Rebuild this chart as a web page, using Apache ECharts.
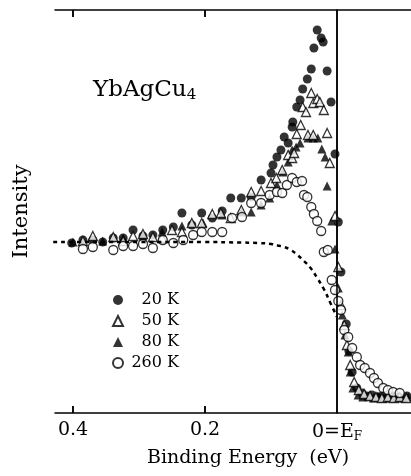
<!DOCTYPE html>
<html>
<head>
<meta charset="utf-8">
<script src="https://cdn.jsdelivr.net/npm/echarts@6/dist/echarts.min.js"></script>
<style>html,body{margin:0;padding:0;background:#fff}#c{width:411px;height:476px}</style>
</head>
<body>
<div id="c"></div>
<script>
// Binding energy (eV) and intensity (arb. units)
const k20E = [0.402,0.385,0.370,0.355,0.339,0.324,0.309,0.294,0.279,0.264,0.248,0.235,0.220,0.205,0.189,0.174,0.161,0.145,0.130,0.115,0.100,0.097,0.091,0.085,0.080,0.074,0.068,0.067,0.061,0.056,0.052,0.045,0.039,0.035,0.030,0.024,0.021,0.015,0.009,0.003,-0.002,-0.006,-0.014,-0.018,-0.023,-0.030,-0.038,-0.045,-0.053,-0.061,-0.068,-0.076,-0.083,-0.091,-0.098,-0.106];
const k20I = [170,173,173,171,175,175,183,177,178,183,186,200,188,200,195,202,215,215,216,233,240,248,256,263,276,270,286,291,306,313,324,334,344,365,383,375,371,342,311,259,191,141,89,62,41,25,20,17,18,16,17,15,17,16,15,17];

const k50E = [0.385,0.370,0.339,0.324,0.309,0.294,0.279,0.265,0.250,0.235,0.220,0.205,0.189,0.176,0.161,0.145,0.130,0.115,0.100,0.092,0.083,0.074,0.068,0.065,0.061,0.055,0.052,0.047,0.044,0.039,0.036,0.036,0.030,0.026,0.020,0.015,0.011,0.003,-0.002,-0.006,-0.011,-0.015,-0.020,-0.026,-0.033,-0.041,-0.050,-0.059,-0.068,-0.077,-0.086,-0.095,-0.105];
const k50I = [172,177,176,172,177,179,176,175,183,181,190,190,199,200,195,203,221,222,230,235,243,258,255,260,279,288,306,301,278,320,310,278,314,311,303,280,250,197,146,108,88,68,48,31,23,19,17,16,15,16,15,16,15];

const k80E = [0.400,0.355,0.324,0.294,0.265,0.235,0.203,0.174,0.145,0.130,0.115,0.102,0.091,0.082,0.074,0.068,0.062,0.056,0.044,0.036,0.029,0.023,0.018,0.015,0.008,0.003,-0.002,-0.008,-0.012,-0.017,-0.020,-0.024,-0.032,-0.039,-0.047,-0.055,-0.062,-0.070,-0.077,-0.085,-0.092,-0.100,-0.108];
const k80I = [171,172,175,177,181,187,190,198,201,201,208,215,228,241,251,263,266,270,275,275,275,264,256,227,192,164,125,98,78,61,41,25,18,16,17,15,17,15,17,15,16,15,16];

const k260E = [0.385,0.370,0.339,0.324,0.309,0.294,0.279,0.264,0.248,0.233,0.218,0.205,0.189,0.174,0.159,0.144,0.130,0.115,0.102,0.091,0.083,0.076,0.068,0.061,0.053,0.050,0.045,0.039,0.035,0.030,0.024,0.020,0.014,0.008,0.003,-0.002,-0.006,-0.011,-0.017,-0.023,-0.030,-0.035,-0.042,-0.050,-0.056,-0.062,-0.070,-0.077,-0.085,-0.095];
const k260I = [164,166,163,167,167,169,165,173,170,173,178,181,181,181,195,196,210,210,218,221,220,228,235,231,232,218,216,206,199,192,182,161,163,133,123,112,103,83,76,65,56,48,45,40,35,30,25,23,21,20];

// dashed reference curve
const refE = [0.43,0.30,0.20,0.15,0.12,0.10,0.09,0.08,0.07,0.06,0.05,0.04,0.03,0.02,0.01,0.0];
const refI = [171,171,171,170.5,170,169,167.5,166,163,158,152,145,135,124,110,96];

const tickValues = [0.4, 0.2, 0];
const minorTicks = [0.4, 0.2];
const seriesNames = ['20 K','50 K','80 K','260 K'];

const zip = (a,b) => a.map((v,i)=>[v,b[i]]);
const FONT = 'DejaVu Serif';
const Y_MIN = 0, Y_MAX = 403, TICK = 7;

const chart = echarts.init(document.getElementById('c'), null, {renderer:'canvas'});
const axisLineStyle = {color:'#000', width:1.5};
const tickStyle = {inside:true, length:TICK, customValues:minorTicks, lineStyle:{color:'#000', width:1.5}};
chart.setOption({
  animation:false,
  backgroundColor:'#fff',
  grid:{left:55, top:10, right:0, bottom:63},
  legend:{
    orient:'vertical', left:107, top:285,
    data: seriesNames,
    itemWidth:10, itemHeight:10, itemGap:1,
    formatter: n => '{r|' + n + '}',
    textStyle:{fontFamily:FONT, fontSize:16, color:'#000', lineHeight:20,
      rich:{r:{fontFamily:FONT, fontSize:16, color:'#000', width:51, align:'right', lineHeight:20}}}
  },
  xAxis:[{
    type:'value', min:-0.1121, max:0.4273, inverse:true,
    axisLine:{lineStyle:axisLineStyle},
    axisTick:Object.assign({show:true}, tickStyle),
    axisLabel:{customValues:tickValues, margin:8,
      formatter:v => v===0 ? '{a|0=E}{s|F}' : v.toFixed(1),
      fontFamily:FONT, fontSize:19, color:'#000',
      rich:{a:{fontFamily:FONT,fontSize:19,color:'#000'}, s:{fontFamily:FONT,fontSize:12,color:'#000',verticalAlign:'bottom',padding:[10,0,0,0]}}
    },
    splitLine:{show:false},
    name:'Binding Energy  (eV)', nameLocation:'middle', nameGap:36,
    nameTextStyle:{fontFamily:FONT, fontSize:19, color:'#000', padding:[0,0,0,30]}
  },{
    type:'value', position:'top', min:-0.1121, max:0.4273, inverse:true,
    axisLine:{lineStyle:axisLineStyle},
    axisTick:Object.assign({show:true}, tickStyle),
    axisLabel:{show:false}, splitLine:{show:false}
  }],
  yAxis:{
    type:'value', min:Y_MIN, max:Y_MAX,
    axisLine:{show:true, lineStyle:axisLineStyle},
    axisTick:{show:false}, axisLabel:{show:false}, splitLine:{show:false},
    name:'Intensity', nameLocation:'middle', nameGap:23,
    nameTextStyle:{fontFamily:FONT, fontSize:21, color:'#000'}
  },
  graphic:[{
    id:'formula', type:'text', left:93, top:79,
    style:{text:'{a|YbAgCu}{s|4}', rich:{a:{fontFamily:FONT,fontSize:23,fill:'#000'}, s:{fontFamily:FONT,fontSize:15,fill:'#000',padding:[10,0,0,0]}}}
  }],
  series:[
    {type:'line', name:'ref', data:zip(refE,refI), showSymbol:false, smooth:true, silent:true,
     lineStyle:{color:'#000', width:2.5, type:[4,4]},
     markLine:{silent:true, symbol:'none', label:{show:false}, lineStyle:{color:'#000', width:1.5, type:'solid'},
       data:[{xAxis:0}]}},
    {type:'scatter', name:'20 K', data:zip(k20E,k20I), symbol:'circle', symbolSize:9, itemStyle:{color:'#000'}},
    {type:'scatter', name:'80 K', data:zip(k80E,k80I), symbol:'triangle', symbolSize:9, itemStyle:{color:'#000'}},
    {type:'scatter', name:'50 K', data:zip(k50E,k50I), symbol:'triangle', symbolSize:9, itemStyle:{color:'#fff', borderColor:'#000', borderWidth:1.3}},
    {type:'scatter', name:'260 K', data:zip(k260E,k260I), symbol:'circle', symbolSize:9, itemStyle:{color:'#fff', borderColor:'#000', borderWidth:1.3}}
  ]
});

// extra tick marks drawn through the chart's own scale (fallback)
const tickGraphics = [];
minorTicks.forEach((v, i) => {
  const pb = chart.convertToPixel({xAxisIndex:0, yAxisIndex:0}, [v, Y_MIN]);
  const pt = chart.convertToPixel({xAxisIndex:0, yAxisIndex:0}, [v, Y_MAX]);
  tickGraphics.push({type:'line', id:'tb'+i, z:100, shape:{x1:pb[0], y1:pb[1], x2:pb[0], y2:pb[1]-TICK}, style:{stroke:'#000', lineWidth:1.5}});
  tickGraphics.push({type:'line', id:'tt'+i, z:100, shape:{x1:pt[0], y1:pt[1], x2:pt[0], y2:pt[1]+TICK}, style:{stroke:'#000', lineWidth:1.5}});
});
chart.setOption({graphic: tickGraphics});
</script>
</body>
</html>
